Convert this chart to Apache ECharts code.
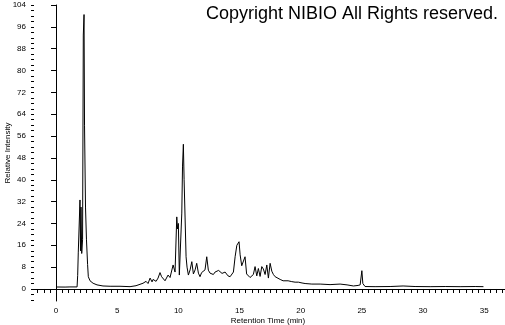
<!DOCTYPE html>
<html>
<head>
<meta charset="utf-8">
<script src="https://cdn.jsdelivr.net/npm/echarts@6/dist/echarts.min.js"></script>
<style>
html,body{margin:0;padding:0;background:#fff;}
#chart{width:505px;height:325px;}
</style>
</head>
<body>
<div id="chart"></div>
<script>
// Retention time (min)
const times = [0,0.74,1.14,1.72,1.77,1.82,1.96,2.00,2.04,2.10,2.17,2.23,2.29,2.33,2.41,2.49,2.58,2.64,2.78,3.03,3.35,3.84,4.42,5.23,6.05,6.54,7.11,7.36,7.52,7.69,7.85,7.93,8.18,8.34,8.50,8.63,8.75,8.91,9.16,9.32,9.57,9.73,9.87,9.93,10.00,10.08,10.14,10.28,10.34,10.41,10.47,10.55,10.63,10.71,10.82,10.96,11.10,11.23,11.37,11.50,11.64,11.77,11.90,12.02,12.18,12.32,12.45,12.59,12.71,12.86,13.00,13.14,13.29,13.41,13.57,13.68,13.82,13.96,14.06,14.23,14.50,14.64,14.78,14.86,14.92,14.96,15.05,15.18,15.29,15.45,15.58,15.72,15.86,16.00,16.13,16.27,16.41,16.54,16.68,16.82,16.95,17.09,17.23,17.36,17.50,17.64,17.77,17.91,18.05,18.32,18.56,18.72,18.97,19.27,19.54,19.81,20.11,20.36,20.91,21.59,22.40,23.22,23.79,24.31,24.69,24.86,25.00,25.08,25.26,26.08,27.31,28.37,29.35,30.58,31.81,33.03,34.26,34.94];
// Relative intensity
const intensity = [0.73,0.7,0.75,0.75,5,13.5,32.6,14,30,13,18,93,100.5,60,30,18,9,4.5,3,2.1,1.5,1.1,1.0,1.0,0.85,1.2,2.1,2.8,2.0,4.0,2.6,3.5,2.8,4,6.0,4.5,4.0,3,5.1,4.2,8.8,6.2,26.4,22,24,5.1,4.5,27.8,45,53,40,26,11.8,8,5.1,7,10,5.5,7,9.4,5.8,4.5,6,5.8,7,11.8,6.9,5.8,6.5,5.3,6.2,5.8,6.8,6.5,5.7,5.5,6.2,5.8,4.8,4.5,6.2,11.8,16,16.7,15.5,17.3,12.5,8.5,7.8,11.8,5.5,5.0,4.2,4.5,5.3,8.2,4.8,7.5,4.6,8.2,7.3,5.3,8.8,4.0,9.4,6.5,5.3,4.5,4.0,3.5,3.0,2.7,3.0,2.7,2.5,2.5,2.2,2.0,1.8,1.8,1.6,1.8,1.5,1.1,1.3,1.5,6.7,2.0,0.9,0.85,0.9,1.1,0.9,0.85,0.9,0.85,0.9,0.85];

const xLabelTicks = [0,5,10,15,20,25,30,35];
const xMinorTicks = [-1.5,-1,-0.5,0,0.5,1,1.5,2,2.5,3,3.5,4,4.5,5,5.5,6,6.5,7,7.5,8,8.5,9,9.5,10,10.5,11,11.5,12,12.5,13,13.5,14,14.5,15,15.5,16,16.5,17,17.5,18,18.5,19,19.5,20,20.5,21,21.5,22,22.5,23,23.5,24,24.5,25,25.5,26,26.5,27,27.5,28,28.5,29,29.5,30,30.5,31,31.5,32,32.5,33,33.5,34,34.5,35,35.5,36,36.5];
const yLabelTicks = [0,8,16,24,32,40,48,56,64,72,80,88,96,104];
const yMinorTicks = [-4,-2,0,2,4,6,8,10,12,14,16,18,20,22,24,26,28,30,32,34,36,38,40,42,44,46,48,50,52,54,56,58,60,62,64,66,68,70,72,74,76,78,80,82,84,86,88,90,92,94,96,98,100,102,104];

const xTitle = 'Retention Time (min)';
const yTitle = 'Relative Intensity';
const copyrightText = 'Copyright NIBIO All Rights reserved.';

const data = times.map((t, i) => [t, intensity[i]]);
const FONT = '"Liberation Sans Narrow", "Liberation Sans", Arial, sans-serif';
const X_MIN = -1.8, X_MAX = 36.7, Y_MIN = -4.4, Y_MAX = 104;

const chart = echarts.init(document.getElementById('chart'), null, {renderer: 'canvas'});
chart.setOption({
  animation: false,
  backgroundColor: '#ffffff',
  grid: {left: 34, right: 0, top: 5, bottom: 24, containLabel: false, outerBoundsMode: 'none'},
  xAxis: [{
    type: 'value', min: X_MIN, max: X_MAX,
    axisLine: {show: true, lineStyle: {color: '#000', width: 1}},
    axisTick: {show: true, customValues: xMinorTicks, length: 4, lineStyle: {color: '#000'}},
    axisLabel: {show: true, customValues: xLabelTicks, color: '#000', fontSize: 8, fontFamily: FONT, margin: 6},
    splitLine: {show: false}
  }],
  yAxis: [{
    type: 'value', min: Y_MIN, max: Y_MAX,
    axisLine: {show: true, lineStyle: {color: '#000', width: 1}},
    axisTick: {show: true, customValues: yLabelTicks, length: 5, lineStyle: {color: '#000'}},
    axisLabel: {show: true, customValues: yLabelTicks, color: '#000', fontSize: 8, fontFamily: FONT, margin: 8},
    splitLine: {show: false}
  }, {
    type: 'value', min: Y_MIN, max: Y_MAX, position: 'left',
    axisLine: {show: false},
    axisTick: {show: true, customValues: yMinorTicks, length: 3, lineStyle: {color: '#000'}},
    axisLabel: {show: false},
    splitLine: {show: false}
  }],
  graphic: [{
    type: 'text', right: 7, top: 5,
    style: {text: copyrightText, fill: '#000', fontSize: 18, fontFamily: '"Liberation Sans", Arial, sans-serif'}
  }, {
    type: 'text', x: 268, y: 321,
    style: {text: xTitle, fill: '#000', fontSize: 8, fontFamily: FONT, align: 'center', verticalAlign: 'middle'}
  }, {
    type: 'text', x: 8, y: 153, rotation: Math.PI / 2,
    style: {text: yTitle, fill: '#000', fontSize: 8, fontFamily: FONT, align: 'center', verticalAlign: 'middle'}
  }],
  series: [{
    type: 'line', data: data, xAxisIndex: 0, yAxisIndex: 0,
    showSymbol: false, symbol: 'none',
    lineStyle: {color: '#000', width: 1},
    clip: true
  }]
});
</script>
</body>
</html>
